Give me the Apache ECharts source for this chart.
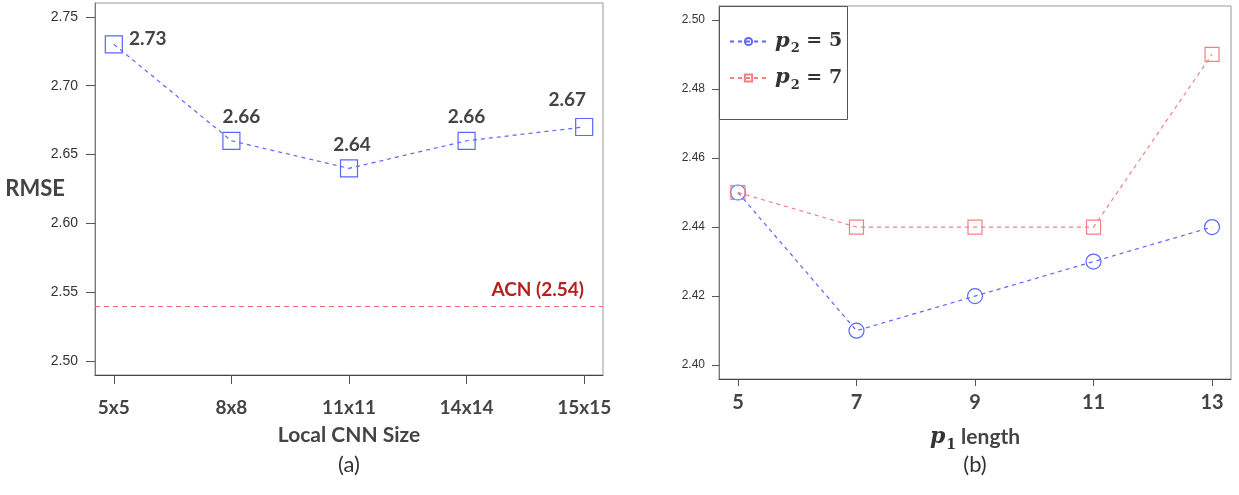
<!DOCTYPE html>
<html>
<head>
<meta charset="utf-8">
<script src="https://cdn.jsdelivr.net/npm/echarts@6/dist/echarts.min.js"></script>
<style>
html,body{margin:0;padding:0;background:#fff;}
#chart{width:1239px;height:495px;}
</style>
</head>
<body>
<div id="chart"></div>
<script>
// ---- data ----
const LEFT_CATEGORIES = ['5x5', '8x8', '11x11', '14x14', '15x15'];
const LEFT_RMSE = [2.73, 2.66, 2.64, 2.66, 2.67];
const ACN_RMSE = 2.54;
const LEFT_Y_TICKS = [2.50, 2.55, 2.60, 2.65, 2.70, 2.75];
const P1_LENGTHS = [5, 7, 9, 11, 13];
const RMSE_P2_5 = [2.45, 2.41, 2.42, 2.43, 2.44];
const RMSE_P2_7 = [2.45, 2.44, 2.44, 2.44, 2.49];
const RIGHT_Y_TICKS = [2.40, 2.42, 2.44, 2.46, 2.48, 2.50];
const P2_VALUES = [5, 7];

// ---- styles ----
const BLUE = '#5a66ff';
const RED = '#f28080';
const TXT = '#444';
const BOLD = 'Lato';
const leftIdx = LEFT_CATEGORIES.map((c, i) => i + 1);
const labelTweaks = [
  { position: 'right', distance: 6, offset: [0, -5] },
  { offset: [10, 0] },
  { offset: [3, 0] },
  { offset: [0, 0] },
  { offset: [-17, -4] }
];
const legendNames = P2_VALUES.map(v => 'p2 = ' + v);
const mathRich = {
  p: { fontFamily: 'DejaVu Serif', fontStyle: 'italic', fontWeight: 'bold', fontSize: 22, color: '#333' },
  s: { fontFamily: 'DejaVu Serif', fontWeight: 'bold', fontSize: 14, color: '#333', padding: [16, 0, 0, 1] },
  t: { fontFamily: BOLD, fontWeight: 'bold', fontSize: 21, color: TXT }
};
const legendRich = {
  p: { fontFamily: 'DejaVu Serif', fontStyle: 'italic', fontWeight: 'bold', fontSize: 21, color: '#333' },
  s: { fontFamily: 'DejaVu Serif', fontWeight: 'bold', fontSize: 13, color: '#333', padding: [15, 0, 0, 1] },
  e: { fontFamily: 'DejaVu Serif', fontWeight: 'bold', fontSize: 19, color: '#333' }
};

const chart = echarts.init(document.getElementById('chart'));
chart.setOption({
  backgroundColor: '#ffffff',
  animation: false,
  grid: [
    { left: 95, right: 636, top: 3, bottom: 120, show: true, borderColor: '#999', borderWidth: 1, outerBoundsMode: 'none', containLabel: false },
    { left: 719, right: 8, top: 6, bottom: 116, show: true, borderColor: '#999', borderWidth: 1, outerBoundsMode: 'none', containLabel: false }
  ],
  xAxis: [
    {
      gridIndex: 0, type: 'value', min: 0.84, max: 5.16,
      axisLine: { show: true, lineStyle: { color: '#444' } },
      axisTick: { show: true, customValues: leftIdx, length: 9, lineStyle: { color: '#555' } },
      axisLabel: { customValues: leftIdx, margin: 23, formatter: v => LEFT_CATEGORIES[Math.round(v) - 1],
        fontFamily: BOLD, fontWeight: 'bold', fontSize: 19, color: TXT },
      splitLine: { show: false },
      name: 'Local CNN Size', nameLocation: 'middle', nameGap: 50, nameMoveOverlap: false,
      nameTextStyle: { fontFamily: BOLD, fontWeight: 'bold', fontSize: 21, color: TXT }
    },
    {
      gridIndex: 1, type: 'value', min: 4.68, max: 13.32,
      axisLine: { show: true, lineStyle: { color: '#444' } },
      axisTick: { show: true, customValues: P1_LENGTHS, length: 7, lineStyle: { color: '#555' } },
      axisLabel: { customValues: P1_LENGTHS, margin: 14,
        fontFamily: BOLD, fontWeight: 'bold', fontSize: 20, color: TXT },
      splitLine: { show: false },
      name: '{p|p}{s|1}{t| length}', nameLocation: 'middle', nameGap: 43, nameMoveOverlap: false,
      nameTextStyle: { rich: mathRich }
    }
  ],
  yAxis: [
    {
      gridIndex: 0, type: 'value', min: 2.49, max: 2.76,
      axisLine: { show: true, lineStyle: { color: '#777' } },
      axisTick: { show: true, customValues: LEFT_Y_TICKS, length: 9, lineStyle: { color: '#555' } },
      axisLabel: { customValues: LEFT_Y_TICKS, margin: 17, formatter: v => v.toFixed(2),
        fontFamily: 'Liberation Sans', fontSize: 14, color: '#333' },
      splitLine: { show: false },
      name: 'RMSE', nameLocation: 'middle', nameRotate: 0, nameGap: 30, nameMoveOverlap: false,
      nameTextStyle: { fontFamily: BOLD, fontWeight: 'bold', fontSize: 22, color: TXT }
    },
    {
      gridIndex: 1, type: 'value', min: 2.396, max: 2.504,
      axisLine: { show: true, lineStyle: { color: '#777' } },
      axisTick: { show: true, customValues: RIGHT_Y_TICKS, length: 7, lineStyle: { color: '#555' } },
      axisLabel: { customValues: RIGHT_Y_TICKS, margin: 14, formatter: v => v.toFixed(2),
        fontFamily: 'Liberation Sans', fontSize: 12, color: '#333' },
      splitLine: { show: false }
    }
  ],
  legend: {
    orient: 'vertical', left: 724, top: 26, itemWidth: 37, itemHeight: 9, itemGap: 12,
    data: legendNames,
    formatter: n => '{p|p}{s|2}{e| = ' + n.split('= ')[1] + '}',
    textStyle: { rich: legendRich, padding: [0, 0, 0, 3] }
  },
  graphic: [
    { type: 'rect', z: 3, shape: { x: 719.5, y: 6.5, width: 128, height: 113 },
      style: { fill: '#fff', stroke: '#555', lineWidth: 1 } },
    { type: 'text', x: 349, y: 465, style: { text: '(a)', align: 'center', verticalAlign: 'middle',
      font: '22px Lato', fill: '#333' } },
    { type: 'text', x: 975, y: 465, style: { text: '(b)', align: 'center', verticalAlign: 'middle',
      font: '22px Lato', fill: '#333' } }
  ],
  series: [
    {
      type: 'line', xAxisIndex: 0, yAxisIndex: 0,
      data: LEFT_RMSE.map((v, i) => ({ value: [i + 1, v], label: labelTweaks[i] })),
      symbol: 'rect', symbolSize: 17,
      itemStyle: { color: 'rgba(0,0,0,0)', borderColor: BLUE, borderWidth: 1.2 },
      lineStyle: { color: BLUE, width: 1.2, type: [4, 4] },
      label: { show: true, position: 'top', distance: 5, formatter: p => p.value[1].toFixed(2),
        fontFamily: BOLD, fontWeight: 'bold', fontSize: 19, color: TXT },
      markLine: {
        silent: true, symbol: 'none',
        data: [{ yAxis: ACN_RMSE }],
        lineStyle: { color: '#f06a6a', width: 1.2, type: [5, 4] },
        label: { show: true, position: 'insideEndTop', distance: [19, 7], formatter: 'ACN (' + ACN_RMSE.toFixed(2) + ')',
          fontFamily: BOLD, fontWeight: 'bold', fontSize: 19, color: '#b5221e' }
      }
    },
    {
      name: legendNames[0], type: 'line', xAxisIndex: 1, yAxisIndex: 1,
      data: RMSE_P2_5.map((v, i) => [P1_LENGTHS[i], v]),
      symbol: 'circle', symbolSize: 15,
      itemStyle: { color: 'rgba(0,0,0,0)', borderColor: BLUE, borderWidth: 1.2 },
      lineStyle: { color: BLUE, width: 1.2, type: [4, 4] }
    },
    {
      name: legendNames[1], type: 'line', xAxisIndex: 1, yAxisIndex: 1,
      data: RMSE_P2_7.map((v, i) => [P1_LENGTHS[i], v]),
      symbol: 'rect', symbolSize: 14,
      itemStyle: { color: 'rgba(0,0,0,0)', borderColor: RED, borderWidth: 1.2 },
      lineStyle: { color: RED, width: 1.2, type: [4, 4] }
    }
  ]
});
</script>
</body>
</html>
